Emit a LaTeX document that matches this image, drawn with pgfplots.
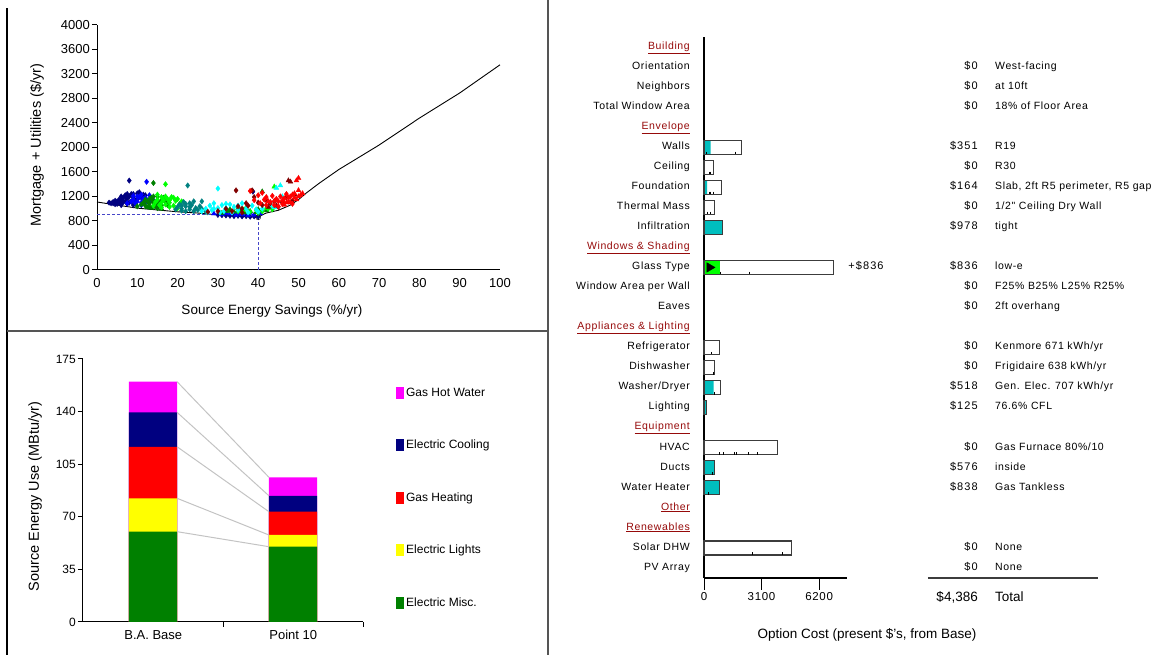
\documentclass[border=0pt]{standalone}
\usepackage{fontspec}
\setmainfont{Liberation Sans}
\newfontfamily\pix[LetterSpace=6]{Liberation Sans}
\newfontfamily\pixw[LetterSpace=10]{Liberation Sans}
\usepackage{pgfplots}
\pgfplotsset{compat=1.18}
\definecolor{navyc}{RGB}{0,0,128}
\definecolor{bluec}{RGB}{0,0,255}
\definecolor{dgreen}{RGB}{0,128,0}
\definecolor{limec}{RGB}{0,255,0}
\definecolor{tealc}{RGB}{0,128,128}
\definecolor{cyanc}{RGB}{0,255,255}
\definecolor{maroonc}{RGB}{128,0,0}
\definecolor{redc}{RGB}{255,0,0}
\definecolor{magc}{RGB}{255,0,255}
\definecolor{yelc}{RGB}{255,255,0}
\definecolor{sepc}{RGB}{85,85,85}
\definecolor{dashc}{RGB}{70,70,200}
\definecolor{barteal}{RGB}{0,190,190}
\definecolor{barline}{RGB}{60,60,60}
\definecolor{hdrc}{RGB}{150,10,10}
\definecolor{conn}{RGB}{195,195,195}
\newcommand\hdr[1]{\textcolor{hdrc}{\underline{#1}}}
\begin{document}
\begin{tikzpicture}[x=1pt,y=1pt]
\useasboundingbox (0,0) rectangle (1154,655);
\draw[line width=1.2pt] (7,0) -- (7,647);
\draw[color=sepc, line width=2pt] (548,0) -- (548,655);
\draw[color=sepc, line width=2pt] (7,324) -- (548,324);

% ---------------- scatter ----------------
\begin{axis}[
 at={(97pt,385pt)}, anchor=south west, scale only axis, width=403pt, height=245pt,
 xmin=0, xmax=100, ymin=0, ymax=4000,
 axis x line*=bottom, axis y line*=left,
 axis line style={line width=1pt},
 xtick={0,10,...,100}, ytick={0,400,...,4000},
 tick align=outside, major tick length=5pt,
 xtick style={draw=none}, ytick style={line width=1pt, black},
 ticklabel style={font=\fontsize{13}{15}\selectfont},
 yticklabel style={inner sep=2pt},
 /pgf/number format/assume math mode=true,
 /pgf/number format/1000 sep={},
 xlabel={Source Energy Savings (\%/yr)},
 ylabel={Mortgage + Utilities (\$/yr)},
 xlabel style={at={(rel axis cs:0.434,-0.1673)}, anchor=center, font=\fontsize{13.5}{16}\selectfont},
 ylabel style={at={(rel axis cs:-0.1489,0.51)}, anchor=center, font=\fontsize{14.5}{16}\selectfont},
 clip=false,
]
\addplot[only marks, mark=diamond*, mark size=2.7pt, color=navyc] coordinates {
(3.5,1090)(4,1110)(4.5,1075)(5,1120)(5.5,1100)(6,1140)(6,1080)(6.5,1180)(7,1220)(7,1120)
(7.5,1240)(7.5,1160)(8,1200)(8,1100)(8.5,1240)(8,1460)(9,1180)(9.5,1130)(10,1250)(10.5,1270)
(11,1180)(6,1060)(9,1060)(12,1220)(4,1090)(5,1080)(6.5,1110)(7,1200)(8.5,1120)(5.5,1150)
(3,1100)(4.5,1130)(6,1200)(7.5,1080)(9,1240)(10,1160)(11.5,1230)
(30,900)(31,895)(32,890)(33,885)(34,880)(35,885)
(36,875)(37,880)(38,870)(39,875)(40,870)(38.7,1280)(32,905)(34,895)(36,890)};
\addplot[only marks, mark=diamond*, mark size=2.7pt, color=bluec] coordinates {
(7.5,1090)(8.5,1120)(9,1150)(9.5,1090)(10,1120)(10.5,1190)(11,1100)(11.5,1160)(12,1180)(12.5,1130)
(13,1220)(13.5,1170)(12.3,1440)(10,1200)(14,1140)(11,1060)(12,1100)(9,1210)(11,1230)(13,1110)};
\addplot[only marks, mark=triangle*, mark size=2.8pt, color=bluec] coordinates {
(31,910)(33,920)(34.5,900)(36,910)(37.5,895)(39,900)(40.5,920)(35,930)(38,930)(29,920)(32,930)};
\addplot[only marks, mark=diamond*, mark size=2.7pt, color=dgreen] coordinates {
(10,1040)(11,1070)(11.5,1100)(12,1050)(12.5,1120)(13,1080)(13.5,1150)(14,1100)(14,1200)(14.5,1060)
(15,1140)(15.5,1080)(16,1050)(16.5,1180)(17,1120)(14,1420)(13,1030)(15,1010)(15,1200)(13.5,1180)
(12,1150)(16,1130)(17.5,1060)};
\addplot[only marks, mark=triangle*, mark size=2.8pt, color=dgreen] coordinates {
(12.5,1020)(14.5,1030)(16,1000)(13.5,1010)(14,1130)(15,1090)(13,1160)
(31,930)(32.5,960)(34,950)(35.5,980)(36.5,940)(38,960)
(39.5,940)(41,1280)(40,990)(42,970)(37,1010)(33,990)(35,1010)};
\addplot[only marks, mark=diamond*, mark size=2.7pt, color=limec] coordinates {
(14,1050)(14.5,1110)(15,1150)(15.5,1060)(16,1100)(16.5,1140)(17,1070)(17.5,1160)(18,1100)(18.5,1190)
(19,1050)(19.5,1130)(20,1160)(20.5,1080)(17,1400)(16,1020)(18,1030)(21,1120)(17,1200)(19,1180)
(15,1230)(16,1190)(18,1140)(20,1010)
(35,960)(36.5,990)(38,950)(39.5,980)(41,960)(42.5,1000)(40,930)(43.5,990)};
\addplot[only marks, mark=triangle*, mark size=2.8pt, color=limec] coordinates {(44,1360)(42,1010)};
\addplot[only marks, mark=diamond*, mark size=2.7pt, color=tealc] coordinates {
(19.5,990)(20,1030)(20.5,1070)(21,1000)(21.5,1110)(22,1040)(22.5,1380)(23,990)(23.5,1060)(24,1120)
(24.5,1010)(25,980)(26,1120)(21,970)(22,960)(23,1030)(24,960)(25.5,1040)(27,950)(22,1080)
(21,1050)(23,1090)(26,1000)};
\addplot[only marks, mark=diamond*, mark size=2.7pt, color=cyanc] coordinates {
(26,960)(27,1000)(27.5,940)(28,1050)(28.5,980)(29,1090)(30,1330)(30,1010)(30.5,940)(31,1060)
(31.5,960)(32,1010)(33,1070)(33.5,940)(34,1030)(35,980)(36,1090)(37,1000)(37.5,940)(38.5,1050)
(39.5,990)(40,950)(41,1000)(43,1040)(29,1000)(32,1080)(35,1050)};
\addplot[only marks, mark=triangle*, mark size=2.8pt, color=cyanc] coordinates {
(44.5,1340)(45.5,1380)(46,1200)(44,1020)};
\addplot[only marks, mark=diamond*, mark size=2.7pt, color=maroonc] coordinates {
(27.5,950)(30,960)(32,1000)(33.5,960)(34.5,1300)(35,1040)(36,1000)(37,1090)(37.5,1050)(38.5,1300)
(39,1190)(40,1100)(41,1060)(42,1140)(43,1090)(44,1120)(45,1030)(46,1100)(47,1190)(48.5,1130)(36,940)};
\addplot[only marks, mark=triangle*, mark size=2.8pt, color=maroonc] coordinates {
(47.5,1460)(44.5,1050)(42.5,1030)(48,1440)(49,1230)};
\addplot[only marks, mark=diamond*, mark size=2.7pt, color=redc] coordinates {
(38,1290)(39,1140)(40,1220)(40.5,1090)(41,1260)(41.5,1150)(42,1190)(43,1110)(43.5,1210)(44,1060)
(44.5,1160)(45,1120)(45.5,1200)(46,1080)(46.5,1170)(47,1240)(47.5,1120)(48,1200)(48.5,1080)(42,1060)(45,1040)};
\addplot[only marks, mark=triangle*, mark size=2.8pt, color=redc] coordinates {
(50,1500)(49.5,1460)(48.5,1230)(47,1100)(50,1200)(51,1250)(46,1140)(44,1130)(42.5,1120)(49,1180)
(49,1250)(49.5,1150)(50,1300)(50.5,1220)(47.5,1180)(48,1100)(46.5,1060)};
\addplot[black, line width=0.9pt] coordinates {
(0,1110)(5,1060)(10,1010)(15,980)(20,950)(25,930)(30,900)(35,880)(38,870)(40,860)(41,900)(42,930)
(45,975)(48,1060)(50,1150)(52,1260)(55,1410)(60,1640)(70,2040)(80,2480)(90,2890)(100,3350)};
\addplot[dashc, line width=1pt, dash pattern=on 3pt off 2pt] coordinates {(0,900)(40,900)};
\addplot[dashc, line width=1pt, dash pattern=on 3pt off 2pt] coordinates {(40,0)(40,860)};
\addplot[only marks, mark=o, mark size=2.5pt, black] coordinates {(40,860)};
\end{axis}

% ---------------- stacked bars ----------------
\begin{axis}[
 at={(83pt,33pt)}, anchor=south west, scale only axis, width=280pt, height=263pt,
 xmin=-0.5, xmax=1.5, ymin=0, ymax=175,
 axis x line*=bottom, axis y line*=left, axis line style={line width=1pt},
 xtick={0.5,1.5}, xticklabels={B.A. Base, Point 10},
 xticklabel style={xshift=-69.75pt, font=\fontsize{13}{15}\selectfont},
 ytick={0,35,...,175}, tick style={line width=1pt, black},
 tick align=outside, major tick length=5pt,
 yticklabel style={font=\fontsize{12}{14}\selectfont, inner sep=2pt},
 /pgf/number format/assume math mode=true,
 ylabel={Source Energy Use (MBtu/yr)},
 ylabel style={at={(rel axis cs:-0.1714,0.477)}, anchor=center, font=\fontsize{14.5}{16}\selectfont},
 legend style={draw=none, fill=none, at={(rel axis cs:1.107,0.905)}, anchor=north west,
   font=\fontsize{12}{14}\selectfont, row sep=38.2pt},
 legend cell align=left,
 clip=false,
]
\addplot[ybar, bar width=0.344, bar shift=0pt, fill=magc, draw=none,
  legend image code/.code={\fill[magc] (0pt,-6pt) rectangle (8pt,6pt);}] coordinates {(0,159.9)(1,96.3)};
\addlegendentry{Gas Hot Water}
\addplot[ybar, bar width=0.344, bar shift=0pt, fill=navyc, draw=none,
  legend image code/.code={\fill[navyc] (0pt,-6pt) rectangle (8pt,6pt);}] coordinates {(0,139.5)(1,84.0)};
\addlegendentry{Electric Cooling}
\addplot[ybar, bar width=0.344, bar shift=0pt, fill=redc, draw=none,
  legend image code/.code={\fill[redc] (0pt,-6pt) rectangle (8pt,6pt);}] coordinates {(0,116.6)(1,73.4)};
\addlegendentry{Gas Heating}
\addplot[ybar, bar width=0.344, bar shift=0pt, fill=yelc, draw=none,
  legend image code/.code={\fill[yelc] (0pt,-6pt) rectangle (8pt,6pt);}] coordinates {(0,82.3)(1,57.9)};
\addlegendentry{Electric Lights}
\addplot[ybar, bar width=0.344, bar shift=0pt, fill=dgreen, draw=none,
  legend image code/.code={\fill[dgreen] (0pt,-6pt) rectangle (8pt,6pt);}] coordinates {(0,60.1)(1,50.1)};
\addlegendentry{Electric Misc.}
\addplot[conn, line width=1pt, forget plot] coordinates {(0.172,60.1)(0.828,50.1)};
\addplot[conn, line width=1pt, forget plot] coordinates {(0.172,82.3)(0.828,57.9)};
\addplot[conn, line width=1pt, forget plot] coordinates {(0.172,116.6)(0.828,73.4)};
\addplot[conn, line width=1pt, forget plot] coordinates {(0.172,139.5)(0.828,84.0)};
\addplot[conn, line width=1pt, forget plot] coordinates {(0.172,159.9)(0.828,96.3)};
\end{axis}

% ---------------- option costs ----------------
\begin{axis}[
 at={(704pt,77pt)}, anchor=south west, scale only axis, width=143pt, height=541pt,
 xmin=0, xmax=7700, ymin=-0.5, ymax=26.5,
 axis x line*=bottom, axis y line*=left, axis line style={line width=1.2pt},
 xtick={0,3100,6200}, xtick style={line width=1pt, black},
 ytick={0,...,26}, ytick style={draw=none},
 yticklabels={PV Array, Solar DHW, \hdr{Renewables}, \hdr{Other}, Water Heater, Ducts, HVAC, \hdr{Equipment},
   Lighting, Washer/Dryer, Dishwasher, Refrigerator, \hdr{Appliances \& Lighting}, Eaves, Window Area per Wall,
   Glass Type, \hdr{Windows \& Shading}, Infiltration, Thermal Mass, Foundation, Ceiling, Walls, \hdr{Envelope},
   Total Window Area, Neighbors, Orientation, \hdr{Building}},
 tick align=outside, major tick length=12pt,
 yticklabel style={font=\pix\fontsize{10.5}{12}\selectfont, inner sep=2pt, text height=7.5pt, text depth=3pt},
 xticklabel style={font=\pix\fontsize{11.5}{13}\selectfont, inner sep=2pt},
 /pgf/number format/assume math mode=true,
 /pgf/number format/1000 sep={},
 xlabel={Option Cost (present \$'s, from Base)},
 xlabel style={at={(rel axis cs:1.14,-0.1054)}, anchor=center, font=\fontsize{13.5}{16}\selectfont},
 clip=false,
]
\addplot[xbar, bar width=0.7, bar shift=0pt, fill=white, draw=none] coordinates {
(2017,21)(519,20)(946,19)(572,18)(978,17)(6955,15)(820,11)(572,10)(893,9)(125,8)(3960,6)(576,5)(838,4)(4690,1)};
\addplot[xbar, bar width=0.7, bar shift=0pt, fill=barteal, draw=none] coordinates {
(351,21)(164,19)(978,17)(518,9)(125,8)(576,5)(838,4)};
\addplot[xbar, bar width=0.7, bar shift=0pt, fill=limec, draw=none] coordinates {(836,15)};
\addplot[xbar, bar width=0.7, bar shift=0pt, fill=none, draw=barline, line width=1.2pt] coordinates {
(2017,21)(519,20)(946,19)(572,18)(978,17)(6955,15)(820,11)(572,10)(893,9)(125,8)(3960,6)(576,5)(838,4)(4690,1)};
\addplot[only marks, mark=|, mark size=1.3pt, black] coordinates {
(1700,20.72)(110,20.72)(270,19.72)(360,19.72)(270,18.72)(360,18.72)(500,18.72)(150,17.72)(360,17.72)
(856,14.72)(2420,14.72)(410,10.72)(520,9.72)(535,8.72)
(820,5.72)(1035,5.72)(1620,5.72)(1750,5.72)(2390,5.72)(2870,5.72)(465,4.72)(200,3.72)(2600,0.72)(4210,0.72)};
\addplot[only marks, mark=triangle*, mark size=5.5pt, mark options={rotate=-90}, black] coordinates {(300,15)};
% cost column
\begin{scope}[every node/.style={font=\pixw\fontsize{11}{12}\selectfont, inner sep=0pt, text height=7.5pt, text depth=3pt}]
\node[anchor=east] at (axis cs:14754,25) {\$0};
\node[anchor=east] at (axis cs:14754,24) {\$0};
\node[anchor=east] at (axis cs:14754,23) {\$0};
\node[anchor=east] at (axis cs:14754,21) {\$351};
\node[anchor=east] at (axis cs:14754,20) {\$0};
\node[anchor=east] at (axis cs:14754,19) {\$164};
\node[anchor=east] at (axis cs:14754,18) {\$0};
\node[anchor=east] at (axis cs:14754,17) {\$978};
\node[anchor=east] at (axis cs:14754,15) {\$836};
\node[anchor=east] at (axis cs:14754,14) {\$0};
\node[anchor=east] at (axis cs:14754,13) {\$0};
\node[anchor=east] at (axis cs:14754,11) {\$0};
\node[anchor=east] at (axis cs:14754,10) {\$0};
\node[anchor=east] at (axis cs:14754,9) {\$518};
\node[anchor=east] at (axis cs:14754,8) {\$125};
\node[anchor=east] at (axis cs:14754,6) {\$0};
\node[anchor=east] at (axis cs:14754,5) {\$576};
\node[anchor=east] at (axis cs:14754,4) {\$838};
\node[anchor=east] at (axis cs:14754,1) {\$0};
\node[anchor=east] at (axis cs:14754,0) {\$0};
\node[anchor=west] at (axis cs:7760,15) {+\$836};
\end{scope}
\begin{scope}[every node/.style={font=\pix\fontsize{10.5}{12}\selectfont, inner sep=0pt, text height=7.5pt, text depth=3pt}]
\node[anchor=west] at (axis cs:15669,25) {West-facing};
\node[anchor=west] at (axis cs:15669,24) {at 10ft};
\node[anchor=west] at (axis cs:15669,23) {18\% of Floor Area};
\node[anchor=west] at (axis cs:15669,21) {R19};
\node[anchor=west] at (axis cs:15669,20) {R30};
\node[anchor=west] at (axis cs:15669,19) {Slab, 2ft R5 perimeter, R5 gap};
\node[anchor=west] at (axis cs:15669,18) {1/2" Ceiling Dry Wall};
\node[anchor=west] at (axis cs:15669,17) {tight};
\node[anchor=west] at (axis cs:15669,15) {low-e};
\node[anchor=west] at (axis cs:15669,14) {F25\% B25\% L25\% R25\%};
\node[anchor=west] at (axis cs:15669,13) {2ft overhang};
\node[anchor=west] at (axis cs:15669,11) {Kenmore 671 kWh/yr};
\node[anchor=west] at (axis cs:15669,10) {Frigidaire 638 kWh/yr};
\node[anchor=west] at (axis cs:15669,9) {Gen. Elec. 707 kWh/yr};
\node[anchor=west] at (axis cs:15669,8) {76.6\% CFL};
\node[anchor=west] at (axis cs:15669,6) {Gas Furnace 80\%/10};
\node[anchor=west] at (axis cs:15669,5) {inside};
\node[anchor=west] at (axis cs:15669,4) {Gas Tankless};
\node[anchor=west] at (axis cs:15669,1) {None};
\node[anchor=west] at (axis cs:15669,0) {None};
\end{scope}
\draw[barline, line width=1.2pt] (axis cs:12062,-0.5) -- (axis cs:21216,-0.5);
\node[anchor=east, inner sep=0pt, font=\fontsize{13.5}{15}\selectfont] at (axis cs:14754,-1.45) {\$4,386};
\node[anchor=west, inner sep=0pt, font=\fontsize{13.5}{15}\selectfont] at (axis cs:15669,-1.45) {Total};
\end{axis}
\end{tikzpicture}
\end{document}
